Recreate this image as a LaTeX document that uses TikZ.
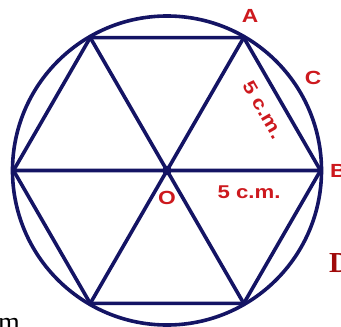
\documentclass[tikz,border=0pt]{standalone}
\usepackage{fontspec}
\usetikzlibrary{calc}
\setmainfont{Liberation Serif}
\newfontfamily\lblfont[FakeStretch=1.2]{Liberation Sans}
\definecolor{navy}{RGB}{20,20,100}
\definecolor{lblred}{RGB}{205,25,30}
\definecolor{dred}{RGB}{160,10,10}
\begin{document}
\begin{tikzpicture}[x=1pt,y=-1pt,
  geo/.style={draw=navy,line width=3.6pt,line join=round},
  lbl/.style={text=lblred,font=\lblfont\fontsize{19}{19}\selectfont\bfseries,inner sep=0pt},
  len/.style={text=lblred,font=\lblfont\fontsize{18.5}{18.5}\selectfont\bfseries,inner sep=0pt}]
\clip (0,0) rectangle (341,327);
\useasboundingbox (0,0) rectangle (341,327);
\coordinate (O) at (167,170.5);
\foreach \i/\a in {1/0,2/60,3/120,4/180,5/240,6/300}
  \coordinate (V\i) at ($(O)+(\a:153.5)$);
\draw[geo] (O) circle (154.5);
\draw[geo] (V1) -- (V2) -- (V3) -- (V4) -- (V5) -- (V6) -- cycle;
\draw[geo] (V1) -- (V4) (V2) -- (V5) (V3) -- (V6);
\fill[navy] (O) circle (4.8);
\node[lbl] (A) at (250,16) {A};
\node[lbl] (C) at (313,78) {C};
\node[lbl,anchor=west] (B) at (330,171) {B};
\node[lbl] (Ol) at (167,198) {O};
\node[len] (l1) at (249,192) {5 c.m.};
\node[len,rotate=-60] (l2) at (263,110) {5 c.m.};
\node[text=dred,font=\fontsize{29}{29}\selectfont\bfseries,anchor=west,inner sep=0pt] (D) at (329,263) {D};
\node[font=\fontsize{28}{28}\selectfont,anchor=base west,inner sep=0pt] (m) at (-2,331) {m};
\end{tikzpicture}
\end{document}
